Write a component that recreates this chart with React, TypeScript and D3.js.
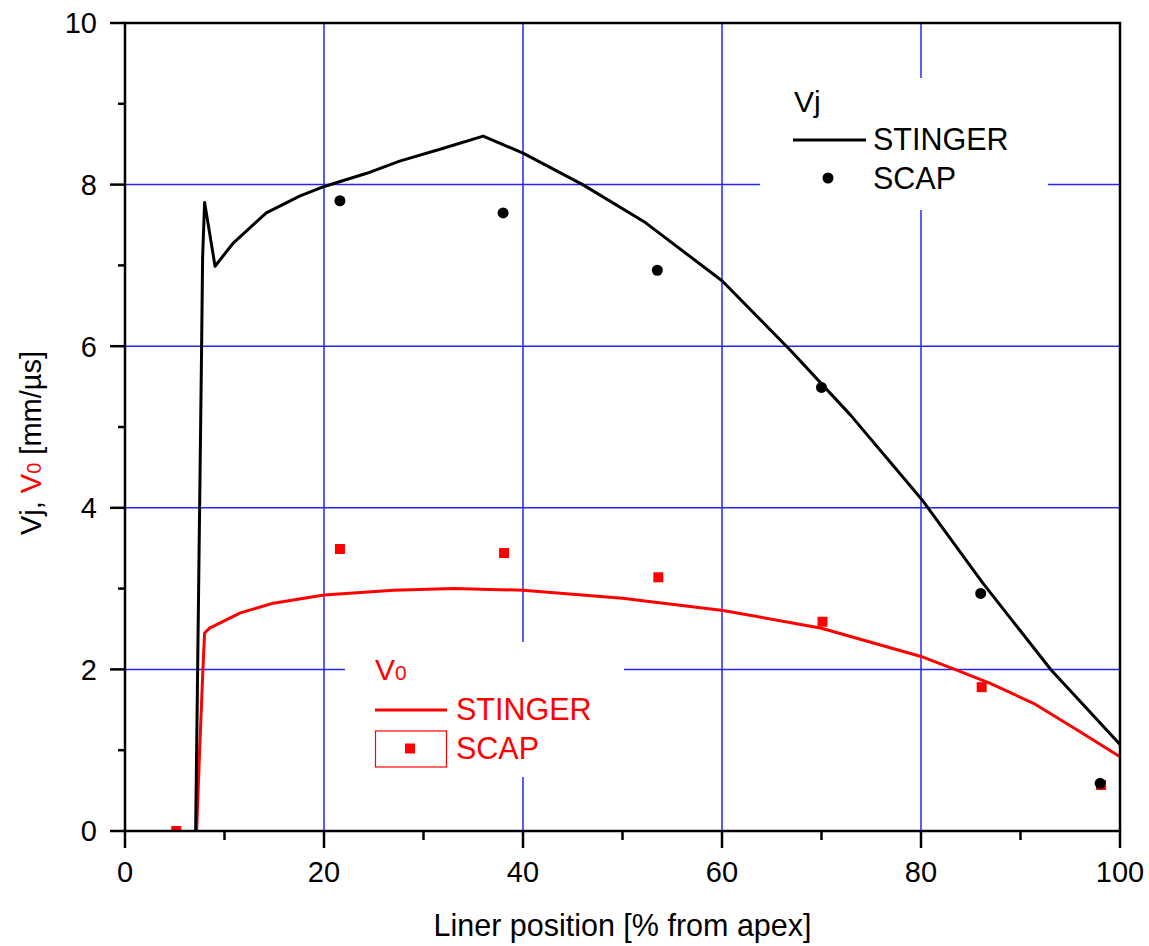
import React from "react";
import * as d3 from "d3";

const stingerVjX = [7.1, 7.4, 7.7, 7.8, 8.0, 9.05, 10.9, 14.2, 17.6, 20.1, 24.3, 27.6, 32, 36.0, 40.0, 46.0, 52.3, 60.0, 66.8, 72.9, 80.1, 86.2, 93.1, 95.8, 100];
const stingerVjY = [0, 3.0, 6.0, 7.1, 7.78, 6.99, 7.28, 7.65, 7.86, 7.98, 8.14, 8.29, 8.45, 8.6, 8.39, 8.0, 7.53, 6.81, 5.96, 5.15, 4.1, 3.07, 1.99, 1.63, 1.07];

const stingerV0X = [7.2, 7.5, 7.8, 8.0, 8.5, 11.6, 14.9, 20, 27, 33, 40, 50, 60.1, 70, 80, 83.2, 86.9, 91.3, 95.7, 100];
const stingerV0Y = [0, 1.0, 1.91, 2.45, 2.51, 2.7, 2.82, 2.92, 2.98, 3.0, 2.98, 2.88, 2.73, 2.51, 2.16, 2.01, 1.83, 1.58, 1.25, 0.92];

const scapVjX = [21.6, 38.0, 53.5, 70.0, 86.0, 98.0];
const scapVjY = [7.8, 7.65, 6.94, 5.49, 2.94, 0.59];

const scapV0X = [5.15, 21.6, 38.1, 53.6, 70.1, 86.1, 98.1];
const scapV0Y = [0, 3.49, 3.44, 3.14, 2.59, 1.78, 0.57];

const xMajor = [0, 20, 40, 60, 80, 100];
const xMinor = [10, 30, 50, 70, 90];
const yMajor = [0, 2, 4, 6, 8, 10];
const yMinor = [1, 3, 5, 7, 9];
const xGrid = [20, 40, 60, 80];
const yGrid = [2, 4, 6, 8];

const W = 1149, H = 946;
const L = 125, R = 1120, T = 23, B = 831;
const FONT = "'Liberation Sans', Arial, sans-serif";
const BLUE = "#2424ff";
const RED = "#ff0000";

export default function App() {
  const x = d3.scaleLinear().domain([0, 100]).range([L, R]);
  const y = d3.scaleLinear().domain([0, 10]).range([B, T]);
  const line = d3
    .line<[number, number]>()
    .x((d) => x(d[0]))
    .y((d) => y(d[1]))
    .curve(d3.curveLinear);
  const vj = stingerVjX.map((v, i) => [v, stingerVjY[i]] as [number, number]);
  const v0 = stingerV0X.map((v, i) => [v, stingerV0Y[i]] as [number, number]);

  return (
    <svg width={W} height={H} style={{ position: "absolute", left: 0, top: 0, display: "block", background: "#fff" }} fontFamily={FONT}>
      <defs>
        <clipPath id="plot">
          <rect x={L} y={T} width={R - L} height={B - T} />
        </clipPath>
      </defs>
      <rect x={0} y={0} width={W} height={H} fill="#fff" />
      {/* grid */}
      {xGrid.map((g) => (
        <line key={"gx" + g} x1={x(g)} x2={x(g)} y1={T} y2={B} stroke={BLUE} strokeWidth={1.5} />
      ))}
      {yGrid.map((g) => (
        <line key={"gy" + g} x1={L} x2={R} y1={y(g)} y2={y(g)} stroke={BLUE} strokeWidth={1.5} />
      ))}
      {/* legend backgrounds */}
      <rect x={760} y={78} width={288} height={132} fill="#fff" />
      <rect x={345} y={642} width={279} height={135} fill="#fff" />

      {/* data */}
      <g clipPath="url(#plot)">
        <path d={line(v0) || ""} fill="none" stroke={RED} strokeWidth={3} strokeLinejoin="round" />
        {scapV0X.map((v, i) => (
          <rect key={"sq" + i} x={x(v) - 5} y={y(scapV0Y[i]) - 5} width={10} height={10} fill={RED} />
        ))}
        <path d={line(vj) || ""} fill="none" stroke="#000" strokeWidth={3} strokeLinejoin="round" />
        {scapVjX.map((v, i) => (
          <circle key={"dot" + i} cx={x(v)} cy={y(scapVjY[i])} r={5.5} fill="#000" />
        ))}
      </g>

      {/* frame */}
      <rect x={L} y={T} width={R - L} height={B - T} fill="none" stroke="#000" strokeWidth={2.5} />

      {/* x ticks */}
      {xMajor.map((t) => (
        <g key={"xt" + t}>
          <line x1={x(t)} x2={x(t)} y1={B} y2={B + 17} stroke="#000" strokeWidth={2.5} />
          <text x={x(t)} y={882} textAnchor="middle" fontSize={29} fill="#000">{t}</text>
        </g>
      ))}
      {xMinor.map((t) => (
        <line key={"xm" + t} x1={x(t)} x2={x(t)} y1={B} y2={B + 9} stroke="#000" strokeWidth={2.5} />
      ))}
      {/* y ticks */}
      {yMajor.map((t) => (
        <g key={"yt" + t}>
          <line x1={L - 15} x2={L} y1={y(t)} y2={y(t)} stroke="#000" strokeWidth={2.5} />
          <text x={97} y={y(t)} dy="0.36em" textAnchor="end" fontSize={29} fill="#000">{t}</text>
        </g>
      ))}
      {yMinor.map((t) => (
        <line key={"ym" + t} x1={L - 7} x2={L} y1={y(t)} y2={y(t)} stroke="#000" strokeWidth={2.5} />
      ))}

      {/* axis titles */}
      <text x={x(50)} y={936} textAnchor="middle" fontSize={30.5} fill="#000">Liner position [% from apex]</text>
      <text transform="translate(41,443) rotate(-90)" textAnchor="middle" fontSize={29} fill="#000">
        <tspan>Vj, </tspan>
        <tspan fill={RED}>V</tspan>
        <tspan fill={RED} fontSize={20}>0</tspan>
        <tspan> [mm/µs]</tspan>
      </text>

      {/* Vj legend */}
      <text x={794} y={112} fontSize={30} fill="#000">Vj</text>
      <line x1={793} x2={866} y1={140} y2={140} stroke="#000" strokeWidth={3} />
      <text x={873} y={150} fontSize={30.5} fill="#000">STINGER</text>
      <circle cx={828} cy={178} r={5.5} fill="#000" />
      <text x={873} y={189} fontSize={30.5} fill="#000">SCAP</text>

      {/* V0 legend */}
      <text x={375} y={680} fontSize={30} fill={RED}>
        <tspan>V</tspan>
        <tspan fontSize={21}>0</tspan>
      </text>
      <line x1={375} x2={447} y1={710} y2={710} stroke={RED} strokeWidth={3} />
      <text x={456} y={720} fontSize={30.5} fill={RED}>STINGER</text>
      <rect x={375.5} y={731} width={71} height={36} fill="none" stroke={RED} strokeWidth={1.2} />
      <rect x={405} y={743.5} width={10} height={10} fill={RED} />
      <text x={456} y={759} fontSize={30.5} fill={RED}>SCAP</text>
    </svg>
  );
}
